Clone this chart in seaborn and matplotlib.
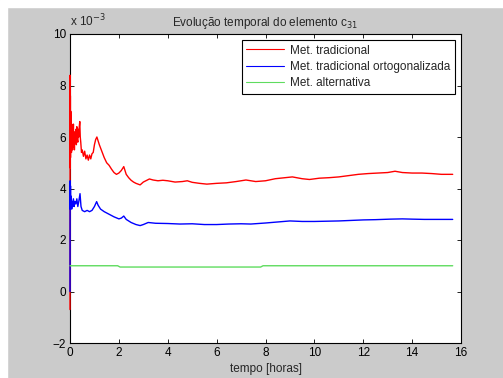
import pandas as pd
import matplotlib.pyplot as plt
import matplotlib.patches as mpatches
import seaborn as sns

# valores em unidades de 1e-3
t_trad = [0.00, 0.005, 0.01, 0.015, 0.02, 0.03, 0.04, 0.05, 0.06, 0.07, 0.08, 0.09, 0.10, 0.11, 0.12,
          0.14, 0.15, 0.17, 0.18, 0.20, 0.22, 0.24, 0.26, 0.28, 0.30, 0.32, 0.34, 0.36, 0.38, 0.40,
          0.42, 0.44, 0.47, 0.50, 0.55, 0.60, 0.65, 0.70, 0.75, 0.80, 0.85, 0.90, 0.95, 1.00, 1.05,
          1.10, 1.15, 1.20, 1.30, 1.40, 1.50, 1.60, 1.70, 1.80, 1.90, 2.00, 2.10, 2.20, 2.25, 2.30,
          2.40, 2.50, 2.60, 2.70, 2.87, 3.00, 3.25, 3.40, 3.60, 3.80, 4.00, 4.30, 4.60, 4.80, 5.00,
          5.30, 5.60, 6.00, 6.40, 6.80, 7.20, 7.60, 8.00, 8.40, 8.80, 9.10, 9.50, 9.80, 10.20, 10.60,
          11.00, 11.40, 11.80, 12.20, 12.60, 13.00, 13.30, 13.60, 14.00, 14.40, 14.80, 15.20, 15.66]
v_trad = [-0.7, 8.4, 4.8, 7.6, 5.2, 7.0, 5.5, 6.8, 5.4, 6.5, 5.6, 6.3, 5.5, 6.1, 5.7,
          6.5, 5.6, 6.2, 5.5, 6.1, 5.8, 6.3, 5.7, 6.4, 5.9, 5.8, 6.3, 6.0, 6.4, 6.6,
          6.0, 5.8, 5.4, 5.5, 5.25, 5.45, 5.15, 5.3, 5.1, 5.3, 5.15, 5.35, 5.4, 5.7, 5.9,
          6.0, 5.85, 5.7, 5.45, 5.2, 5.0, 4.9, 4.75, 4.62, 4.55, 4.6, 4.7, 4.85, 4.7, 4.55,
          4.42, 4.32, 4.25, 4.2, 4.14, 4.25, 4.37, 4.33, 4.3, 4.32, 4.3, 4.25, 4.27, 4.3, 4.24,
          4.2, 4.17, 4.2, 4.22, 4.27, 4.33, 4.27, 4.3, 4.38, 4.42, 4.45, 4.38, 4.35, 4.4, 4.42,
          4.45, 4.5, 4.55, 4.58, 4.6, 4.62, 4.67, 4.62, 4.6, 4.6, 4.58, 4.55, 4.55]

t_orto = [0.00, 0.005, 0.01, 0.02, 0.03, 0.05, 0.07, 0.09, 0.11, 0.14, 0.17, 0.20, 0.24, 0.28, 0.32,
          0.36, 0.41, 0.45, 0.50, 0.60, 0.70, 0.80, 0.90, 1.00, 1.09, 1.15, 1.25, 1.40, 1.60, 1.80,
          2.00, 2.10, 2.20, 2.30, 2.50, 2.70, 2.87, 3.00, 3.20, 3.50, 4.00, 4.50, 5.00, 5.50, 6.00,
          6.50, 7.00, 7.40, 8.00, 8.50, 9.00, 9.50, 10.00, 10.50, 11.00, 11.50, 12.00, 12.50, 13.10,
          13.60, 14.00, 14.50, 15.00, 15.66]
v_orto = [0.0, 4.3, 3.2, 4.1, 3.3, 3.7, 3.2, 3.5, 3.3, 3.6, 3.3, 3.5, 3.4, 3.6, 3.3,
          3.5, 3.8, 3.3, 3.15, 3.1, 3.15, 3.1, 3.15, 3.3, 3.49, 3.35, 3.2, 3.1, 3.0, 2.9,
          2.82, 2.85, 2.93, 2.8, 2.68, 2.6, 2.56, 2.6, 2.68, 2.65, 2.64, 2.62, 2.63, 2.6, 2.6,
          2.62, 2.63, 2.62, 2.66, 2.7, 2.74, 2.72, 2.72, 2.73, 2.74, 2.76, 2.78, 2.79, 2.81,
          2.82, 2.81, 2.8, 2.8, 2.8]

t_alt = [0.00, 1.95, 2.05, 7.80, 7.90, 15.66]
v_alt = [1.0, 1.0, 0.95, 0.95, 1.0, 1.0]

nomes = ['Met. tradicional', 'Met. tradicional ortogonalizada', 'Met. alternativa']
cores = ['#ff0000', '#0000ff', '#5fdc5f']

df = pd.concat([
    pd.DataFrame({'t': t_trad, 'v': v_trad, 'metodo': nomes[0]}),
    pd.DataFrame({'t': t_orto, 'v': v_orto, 'metodo': nomes[1]}),
    pd.DataFrame({'t': t_alt, 'v': v_alt, 'metodo': nomes[2]}),
])

sns.set_theme(style='ticks')
plt.rcParams['font.family'] = ['Liberation Sans', 'DejaVu Sans']
fs = 8.5

fig = plt.figure(figsize=(5.03, 3.78), dpi=100, facecolor='#cbcbcb')
# faixa branca no topo e na esquerda
fig.patches.append(mpatches.Rectangle((0, 0), 7 / 503, 1, transform=fig.transFigure, color='white', zorder=-1))
fig.patches.append(mpatches.Rectangle((0, 1 - 7 / 378), 1, 7 / 378, transform=fig.transFigure, color='white', zorder=-1))

ax = fig.add_axes([70 / 503, 35 / 378, 391 / 503, 309 / 378])
ax.set_facecolor('white')
sns.lineplot(data=df, x='t', y='v', hue='metodo', palette=dict(zip(nomes, cores)),
             estimator=None, sort=False, linewidth=1.0, ax=ax)
for ln in ax.lines:
    ln.set_zorder(3)
    ln.set_clip_on(False)

ax.set_xlim(0, 16)
ax.set_ylim(-2, 10)
ax.set_xticks(range(0, 17, 2))
ax.set_yticks(range(-2, 11, 2))
ax.tick_params(direction='in', top=True, right=True, length=3, width=0.6,
               labelsize=fs, colors='black', pad=3)
for s in ax.spines.values():
    s.set_linewidth(0.8)
    s.set_color('black')

ax.set_xlabel('tempo [horas]', fontsize=fs, labelpad=3)
ax.set_ylabel('')
ax.set_title('Evolução temporal do elemento c$_{31}$', fontsize=fs, pad=6)
ax.text(0.0, 1.015, 'x 10$^{-3}$', transform=ax.transAxes, fontsize=fs, ha='left', va='bottom')

leg = ax.legend(loc='upper right', fontsize=fs, frameon=True, fancybox=False,
                edgecolor='black', framealpha=1, borderaxespad=0.5,
                handlelength=3.2, handletextpad=0.5, borderpad=0.4, labelspacing=0.35)
leg.get_frame().set_linewidth(0.8)
for h in leg.get_lines():
    h.set_linewidth(0.8)

fig.savefig('out.png', dpi=100, facecolor=fig.get_facecolor())
